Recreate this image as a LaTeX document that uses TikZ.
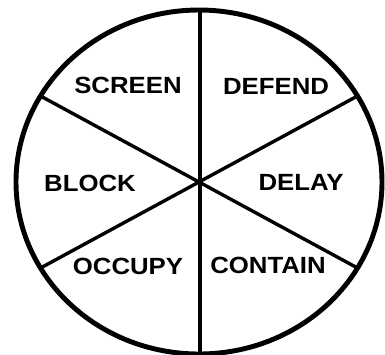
\documentclass[tikz,border=0pt]{standalone}
\usepackage{fontspec}
\setmainfont{Liberation Sans}
\begin{document}
\begin{tikzpicture}[x=0.03cm,y=-0.03cm,
    lbl/.style={font=\fontsize{20}{22}\selectfont\bfseries,xscale=1.1,inner sep=0pt},
    spoke/.style={line width=2.9pt}]
    \useasboundingbox (0,0) rectangle (385,354);
    \coordinate (c) at (200,182);
    % spoke ends on the rim
    \coordinate (top) at (200,10);
    \coordinate (bot) at (200,354);
    \coordinate (ur) at ({199+183*cos(30)},{182-172*sin(30)});
    \coordinate (ul) at ({199-183*cos(30)},{182-172*sin(30)});
    \coordinate (lr) at ({199+183*cos(30)},{182+172*sin(30)});
    \coordinate (ll) at ({199-183*cos(30)},{182+172*sin(30)});
    \draw[spoke] (top) -- (bot);
    \draw[spoke] (ul) -- (lr);
    \draw[spoke] (ll) -- (ur);
    \draw[line width=4.2pt] (199,182) ellipse (183 and 172);
    \node[lbl] (screen) at (128,85) {SCREEN};
    \node[lbl] (defend) at (276,86) {DEFEND};
    \node[lbl] (block) at (90,183) {BLOCK};
    \node[lbl] (delay) at (301,182) {DELAY};
    \node[lbl] (occupy) at (128,266) {OCCUPY};
    \node[lbl] (contain) at (268,265) {CONTAIN};
\end{tikzpicture}
\end{document}
